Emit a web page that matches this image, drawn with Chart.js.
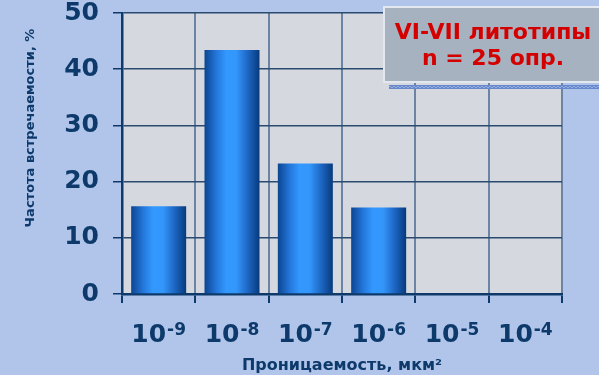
<!DOCTYPE html>
<html>
<head>
<meta charset="utf-8">
<script src="https://cdn.jsdelivr.net/npm/chart.js@4.4.1/dist/chart.umd.min.js"></script>
<style>
  html, body { margin: 0; padding: 0; background: #b1c5ea; }
  #wrap { width: 599px; height: 375px; position: relative; overflow: hidden; }
</style>
</head>
<body>
<div id="wrap"><canvas id="chart" width="599" height="375"></canvas></div>
<script>
// permeability classes (10^exp) and frequency of occurrence, %
const CATEGORIES = ['10⁻⁹', '10⁻⁸', '10⁻⁷', '10⁻⁶', '10⁻⁵', '10⁻⁴'];
const EXPONENTS = ['-9', '-8', '-7', '-6', '-5', '-4'];
const FREQ = [15.6, 43.4, 23.2, 15.4, null, null];
const Y_MIN = 0, Y_MAX = 50, Y_STEP = 10;
const X_TITLE = 'Проницаемость, мкм²';
const Y_TITLE = 'Частота встречаемости, %';
const NOTE_LINES = ['VI-VII литотипы', 'n = 25 опр.'];

const NAVY = '#0d3a6b';
const FONT = "'DejaVu Sans', Verdana, sans-serif";
const BAR_PCT = 0.75;

// horizontal "cylinder" shading for each bar, built from the x scale
function barGradient(ctx) {
  const chart = ctx.chart;
  const xs = chart.scales.x;
  if (!xs || !chart.chartArea) return '#2a84e8';
  const cx = xs.getPixelForValue(ctx.dataIndex);
  const half = (xs.width / CATEGORIES.length) * BAR_PCT / 2;
  const g = chart.ctx.createLinearGradient(cx - half, 0, cx + half, 0);
  g.addColorStop(0, '#0c4590');
  g.addColorStop(0.22, '#2477dc');
  g.addColorStop(0.4, '#3399ff');
  g.addColorStop(0.58, '#3396fb');
  g.addColorStop(0.8, '#1c64c0');
  g.addColorStop(1, '#073a7c');
  return g;
}

const decor = {
  id: 'decor',
  beforeDraw(chart) {
    const { ctx, chartArea: a } = chart;
    ctx.save();
    ctx.fillStyle = '#b1c5ea';
    ctx.fillRect(0, 0, chart.width, chart.height);
    ctx.fillStyle = '#d5d9df';
    ctx.fillRect(a.left, a.top, a.right - a.left, a.bottom - a.top);
    ctx.restore();
  },
  afterDraw(chart) {
    const { ctx } = chart;
    const xs = chart.scales.x;
    ctx.save();
    ctx.fillStyle = NAVY;

    // category labels: "10" with a raised exponent
    ctx.textAlign = 'left';
    ctx.textBaseline = 'alphabetic';
    CATEGORIES.forEach((_, i) => {
      ctx.font = `bold 25px ${FONT}`;
      const wBase = ctx.measureText('10').width;
      ctx.font = `bold 17px ${FONT}`;
      const wExp = ctx.measureText(EXPONENTS[i]).width;
      const x0 = xs.getPixelForValue(i) - (wBase + 1 + wExp) / 2;
      ctx.font = `bold 25px ${FONT}`;
      ctx.fillText('10', x0, 342);
      ctx.font = `bold 17px ${FONT}`;
      ctx.fillText(EXPONENTS[i], x0 + wBase + 1, 335);
    });

    // axis titles
    ctx.textAlign = 'center';
    ctx.textBaseline = 'middle';
    ctx.font = `bold 16px ${FONT}`;
    ctx.fillText(X_TITLE, 342, 366);
    ctx.translate(31, 128);
    ctx.rotate(-Math.PI / 2);
    ctx.font = `bold 13px ${FONT}`;
    ctx.fillText(Y_TITLE, 0, 0);
    ctx.setTransform(1, 0, 0, 1, 0, 0);

    // note box with its dotted shadow strip
    ctx.fillStyle = '#6687cc';
    ctx.fillRect(389, 85, 215, 4);
    ctx.fillStyle = '#95aee0';
    for (let x = 389; x < 604; x += 4) {
      ctx.fillRect(x, 86, 2, 1);
      ctx.fillRect(x + 2, 87, 2, 1);
    }
    ctx.fillStyle = '#e3e8ee';
    ctx.fillRect(383, 6, 220, 77);
    ctx.fillStyle = '#a6b2bf';
    ctx.fillRect(385, 8, 220, 73);

    ctx.fillStyle = '#d40000';
    ctx.font = `bold 22px ${FONT}`;
    ctx.fillText(NOTE_LINES[0], 493, 33);
    ctx.fillText(NOTE_LINES[1], 493, 59);
    ctx.restore();
  }
};

new Chart(document.getElementById('chart'), {
  type: 'bar',
  data: {
    labels: CATEGORIES,
    datasets: [{
      data: FREQ,
      backgroundColor: barGradient,
      borderWidth: 0,
      barPercentage: BAR_PCT,
      categoryPercentage: 1
    }]
  },
  plugins: [decor],
  options: {
    responsive: false,
    devicePixelRatio: 1,
    animation: false,
    layout: { padding: { left: 0, top: 13, right: 37, bottom: 0 } },
    plugins: { legend: { display: false }, tooltip: { enabled: false } },
    scales: {
      x: {
        afterFit(scale) {
          scale.height = 81;
          scale.paddingLeft = 0;
          scale.paddingRight = 0;
        },
        grid: {
          offset: true,
          color: '#6b84a3',
          lineWidth: 2,
          tickColor: NAVY,
          tickLength: 9
        },
        border: { color: NAVY, width: 2.5 },
        ticks: { display: false }
      },
      y: {
        min: Y_MIN,
        max: Y_MAX,
        afterFit(scale) {
          scale.width = 122;
          scale.paddingTop = 0;
          scale.paddingBottom = 0;
        },
        grid: {
          color: '#2b4a70',
          lineWidth: 1.5,
          tickColor: NAVY,
          tickLength: 9
        },
        border: { color: NAVY, width: 2.5 },
        ticks: {
          stepSize: Y_STEP,
          color: NAVY,
          padding: 14,
          font: { family: FONT, size: 25, weight: 'bold' }
        }
      }
    }
  }
});
</script>
</body>
</html>
